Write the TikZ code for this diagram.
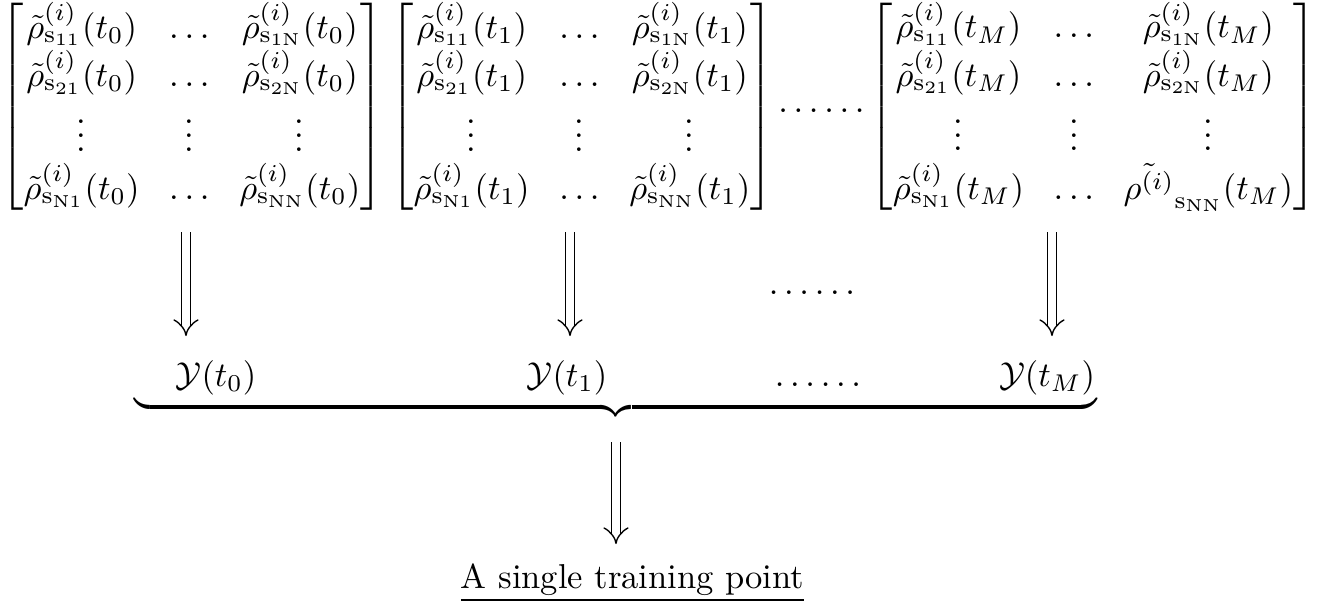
\documentclass[tikz,border=0pt]{standalone}
\usepackage{amsmath}
\usetikzlibrary{arrows.meta}
\tikzset{
  dimp/.style={double, double distance=2.2pt, line width=0.4pt, -{Implies}},
  lab/.style={inner sep=0pt, anchor=base},
  mat/.style={inner sep=0pt},
}
\setlength{\arraycolsep}{4.3pt}
\newcommand{\rt}[2]{\tilde{\rho}^{(i)}_{\mathrm{s}_{\mathrm{#1}}}(#2)}
\begin{document}
\begin{tikzpicture}[x=0.2894pt, y=-0.2894pt]
\useasboundingbox (0,0) rectangle (1321,608);
\node[mat] (m1) at (192,107) {$\begin{bmatrix}
 \rt{11}{t_0} & \ldots & \rt{1N}{t_0}\\
 \rt{21}{t_0} & \ldots & \rt{2N}{t_0}\\
 \vdots & \vdots & \vdots\\
 \rt{N1}{t_0} & \ldots & \rt{NN}{t_0}
\end{bmatrix}$};
\node[mat] (m2) at (582,107) {$\begin{bmatrix}
 \rt{11}{t_1} & \ldots & \rt{1N}{t_1}\\
 \rt{21}{t_1} & \ldots & \rt{2N}{t_1}\\
 \vdots & \vdots & \vdots\\
 \rt{N1}{t_1} & \ldots & \rt{NN}{t_1}
\end{bmatrix}$};
\node[lab] (d0) at (821.5,112.5) {$\ldots\ldots$};
\node[mat] (m3) at (1093,107) {$\begin{bmatrix}
 \rt{11}{t_M} & \ldots & \rt{1N}{t_M}\\
 \rt{21}{t_M} & \ldots & \rt{2N}{t_M}\\
 \vdots & \vdots & \vdots\\
 \rt{N1}{t_M} & \ldots & {\tilde{\rho^{(i)}}}_{\mathrm{s}_{\mathrm{NN}}}(t_M)
\end{bmatrix}$};
% arrows from matrices
\coordinate (a1s) at (186,232); \coordinate (a1e) at (186,336);
\coordinate (a2s) at (570,232); \coordinate (a2e) at (570,336);
\coordinate (a3s) at (1052,232); \coordinate (a3e) at (1052,336);
\draw[dimp] (a1s) -- (a1e);
\draw[dimp] (a2s) -- (a2e);
\draw[dimp] (a3s) -- (a3e);
\node[lab] (d1) at (812,294) {$\ldots\ldots$};
% Y labels
\node[lab] (y0) at (216,386) {$\mathcal{Y}(t_0)$};
\node[lab] (y1) at (567,386) {$\mathcal{Y}(t_1)$};
\node[lab] (d2) at (818,386) {$\ldots\ldots$};
\node[lab] (yM) at (1047,386) {$\mathcal{Y}(t_M)$};
% brace
\node[inner sep=0pt, anchor=north] (br) at (616,394) {$\underbrace{\hbox to 278.5pt{}}$};
% final
\node[lab] (pt) at (632.5,588) {\underline{A single training point}};
\draw[dimp] (br.south |- 0,442) -- (br.south |- 0,544);
\end{tikzpicture}
\end{document}
